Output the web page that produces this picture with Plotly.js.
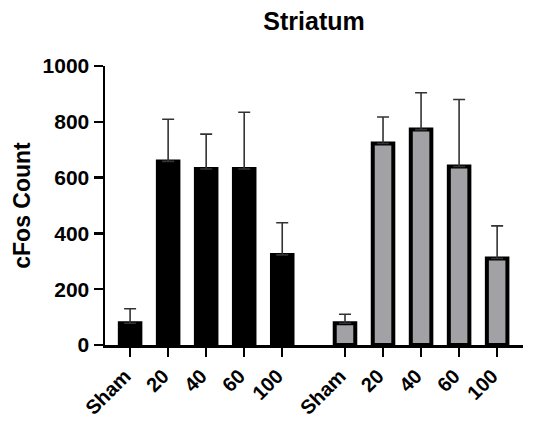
<!DOCTYPE html>
<html>
<head>
<meta charset="utf-8">
<script src="https://cdn.plot.ly/plotly-3.0.1.min.js"></script>
<style>
html,body{margin:0;padding:0;background:#fff;}
#chart{width:538px;height:425px;}
</style>
</head>
<body>
<div id="chart"></div>
<script>
// Data
const categories = ['Sham', '20', '40', '60', '100'];
const group1Values = [78, 658, 631, 631, 323];
const group1Errors = [52, 151, 125, 203, 115];
const group2Values = [78, 722, 772, 640, 310];
const group2Errors = [32, 95, 132, 240, 117];
const yTickVals = [0, 200, 400, 600, 800, 1000];

const group2Offset = 5.65;
const x1 = categories.map((c, i) => i);
const x2 = categories.map((c, i) => i + group2Offset);

const font = 'Arial, "Liberation Sans", sans-serif';

function errBar(arr) {
  return {type: 'data', symmetric: false, array: arr, arrayminus: arr.map(() => 0),
          color: '#333333', thickness: 1.6, width: 6, visible: true};
}

const traces = [
  {type: 'bar', x: x1, y: group1Values, width: 0.54,
   marker: {color: '#000000', line: {color: '#000000', width: 4}},
   error_y: errBar(group1Errors), hoverinfo: 'skip'},
  {type: 'bar', x: x2, y: group2Values, width: 0.54,
   marker: {color: '#a2a2a6', line: {color: '#000000', width: 4}},
   error_y: errBar(group2Errors), hoverinfo: 'skip'}
];

const layout = {
  width: 538, height: 425,
  margin: {l: 105, r: 15, t: 66, b: 80},
  paper_bgcolor: '#ffffff', plot_bgcolor: '#ffffff',
  showlegend: false,
  title: {text: 'Striatum', font: {family: font, size: 25, weight: 'bold', color: '#000'},
          x: 0.5, xref: 'paper', xanchor: 'center', y: 1 - 21/425, yanchor: 'middle'},
  xaxis: {
    range: [-0.66, 10.33], tickvals: x1.concat(x2), ticktext: categories.concat(categories),
    tickangle: -45, ticks: 'outside', ticklen: 9, tickwidth: 2.5, tickcolor: '#000',
    ticklabelshift: -5,
    showline: true, linewidth: 2.5, linecolor: '#000', showgrid: false, zeroline: false,
    tickfont: {family: font, size: 20, weight: 'bold', color: '#000'}, fixedrange: true
  },
  yaxis: {
    range: [0, 1000], tickvals: yTickVals, ticks: 'outside', ticklen: 9, tickwidth: 2.5, tickcolor: '#000',
    showline: true, linewidth: 2.5, linecolor: '#000', showgrid: false, zeroline: false,
    tickfont: {family: font, size: 21, weight: 'bold', color: '#000'},
    title: {text: 'cFos Count', font: {family: font, size: 23, weight: 'bold', color: '#000'}, standoff: 6},
    fixedrange: true
  },
  bargap: 0
};

Plotly.newPlot('chart', traces, layout, {displayModeBar: false, staticPlot: true});
</script>
</body>
</html>
